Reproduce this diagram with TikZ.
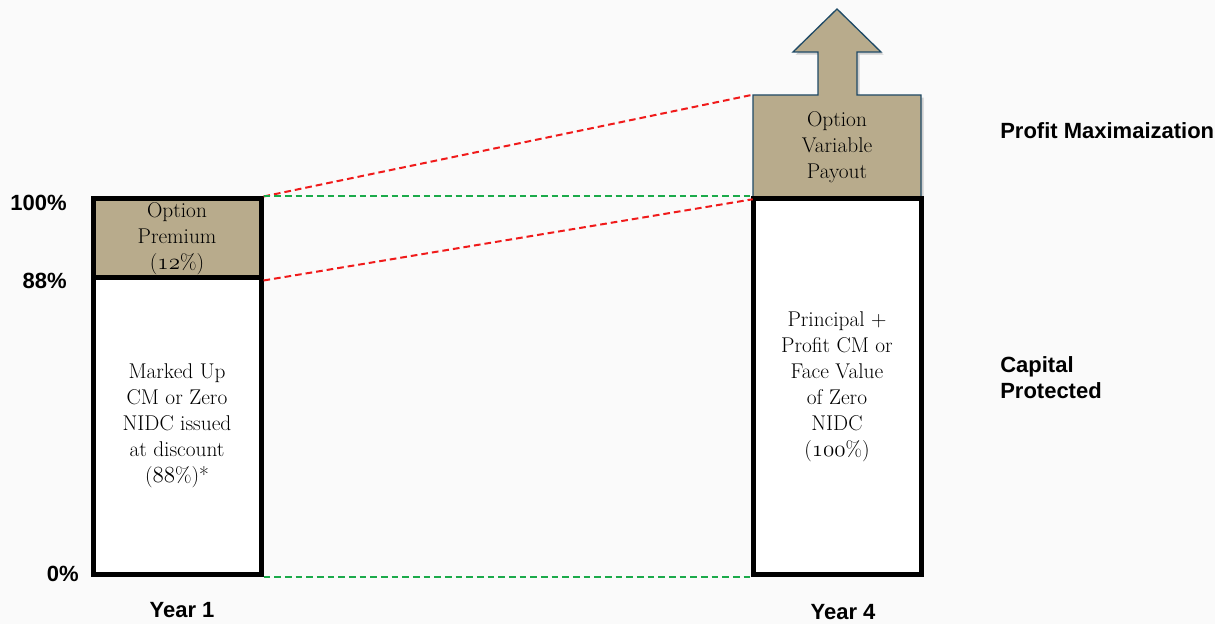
\documentclass[tikz,border=0pt]{standalone}
\usepackage{fontspec}
\newfontfamily\lblfont{Liberation Sans}
\usetikzlibrary{shadows}
\definecolor{tan}{HTML}{B8AB8C}
\definecolor{navy}{HTML}{1F4A66}
\definecolor{dashred}{HTML}{F01A1A}
\definecolor{dashgreen}{HTML}{1BAA4A}
\newcommand{\osn}[1]{$\mathnormal{#1}$}
\tikzset{
  barbox/.style={draw=black, line width=3.75pt, fill=white, minimum width=126pt, inner sep=0pt, align=center,
    font=\fontsize{16}{19.5}\selectfont},
  lbl/.style={font=\lblfont\bfseries\fontsize{16.5}{19.5}\selectfont, inner sep=0pt},
  reddash/.style={dashred, line width=1.5pt, dash pattern=on 5pt off 3pt},
  greendash/.style={dashgreen, line width=1.5pt, dash pattern=on 5pt off 3pt},
}
\begin{document}
\begin{tikzpicture}[x=0.75pt, y=-0.75pt]
\fill[gray!4] (0,0) rectangle (1215,624);
\useasboundingbox (0,0) rectangle (1215,624);

% year 1 bar
\node[barbox, fill=tan, minimum height=59.25pt] (prem) at (177,238.5) {Option\\Premium\\(\osn{12}\%)};
\node[barbox, minimum height=222pt] (base) at (177,426) {Marked Up\\CM or Zero\\NIDC issued\\at discount\\(\osn{88}\%)*};

% year 4 bar
\draw[navy, line width=1pt, fill=tan, drop shadow={opacity=0.35, shadow xshift=2pt, shadow yshift=-2pt}]
  (753,199) -- (753,95) -- (818,95) -- (818,52) -- (793,52) -- (837,9) -- (881,52)
  -- (857,52) -- (857,95) -- (921,95) -- (921,199) -- cycle;
\node[minimum width=126pt, minimum height=78pt, inner sep=0pt, align=center,
  font=\fontsize{16}{19.5}\selectfont] (payout) at (837,147) {Option\\Variable\\Payout};
\node[barbox, minimum height=281.25pt] (face) at (837,386.5) {Principal +\\Profit CM or\\Face Value\\of Zero\\NIDC\\(\osn{100}\%)};

% dashed links
\draw[reddash] (prem.north east) -- (payout.north west);
\draw[reddash] (prem.south east) -- (payout.south west);
\draw[greendash] (prem.north east) -- (face.north west);
\draw[greendash] (base.south east) -- (face.south west);

% labels
\node[lbl, anchor=east] (p100) at (67,203) {100\%};
\node[lbl, anchor=east] (p88) at (67,281) {88\%};
\node[lbl, anchor=east] (p0) at (79,574) {0\%};
\node[lbl] (yr1) at (182,610) {Year 1};
\node[lbl] (yr4) at (843,612) {Year 4};
\node[lbl, anchor=west] (pmax) at (1000,131) {Profit Maximaization};
\node[lbl, anchor=west, align=left] (cprot) at (1000,378) {Capital\\Protected};
\end{tikzpicture}
\end{document}
